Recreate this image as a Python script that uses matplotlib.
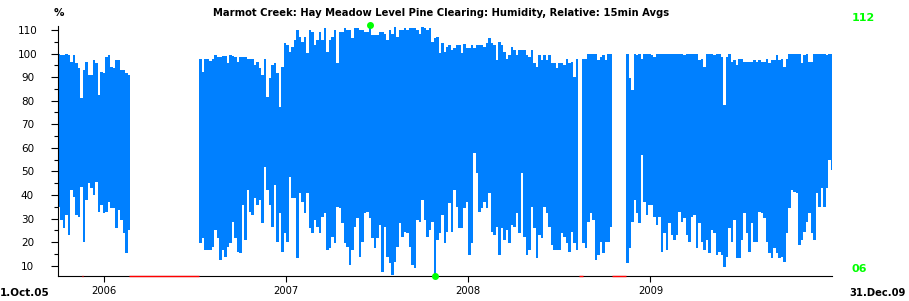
import numpy as np
import matplotlib
matplotlib.use("Agg")
import matplotlib.pyplot as plt
import matplotlib.dates as mdates

# 15 min data shown as 5-day min/max envelopes
BIN_DAYS = 5

seg1_start = "2005-10-01"
seg1_hi = [100, 99.4, 99.4, 100, 99.4, 96.5, 99.4, 95.8, 93.7, 81, 93, 96.5, 90.9, 90.9, 97.2,
           95.8, 82.4, 92.3, 91.6, 98.6, 99.4, 94.4, 93.7, 97.2, 97.2, 93, 93, 91.6, 90.9]
seg1_lo = [35, 29.3, 25.8, 31.5, 23, 42, 39.3, 31.5, 30.8, 43.5, 20.2, 37.8, 45, 42.8, 40,
           45.6, 32.9, 35.7, 32.2, 32.9, 37.1, 34.3, 34.3, 25.8, 33.6, 29.3, 23.7, 15.2, 25.1]

seg2_start = "2006-07-11"
seg2_hi = [97.5, 92.3, 97.9, 97.9, 97, 97.9, 99.4, 98.4, 98.6, 98.9, 98.9, 95.8, 99.4, 98.9, 98.6,
           96.5, 98.4, 98.4, 98.4, 97.9, 97.9, 97.9, 95.1, 96.5, 93.7, 90.9, 97.5, 81.7, 89.5, 95.1,
           95.8, 91.6, 77.4, 94.4, 104.3, 103.6, 100.8, 102.9, 105.7, 110.2, 107.1, 105, 107.1, 100.1, 110,
           109.3, 103.6, 105.7, 109.3, 105.7,
           110.7, 100.8, 105.7, 107.1, 110, 95.8, 109.3, 109.3, 110.7, 110, 110, 106.4, 110.7, 110.7, 110,
           110, 109.3, 109.3, 112, 107.8, 107.8, 107.8, 109.3, 109.3, 108.5, 105.7, 110, 108.5, 111.4, 107.1,
           110, 110, 110.7, 110, 111, 110.7, 110.7, 110, 108.5, 111.4, 110.7, 110, 110.7, 105, 106.4,
           107.1, 100.1, 104.3, 100.8, 102.9, 103.6, 101.5, 102.2,
           103.6, 103.6, 100.1, 104, 102.2, 102.2, 103.6, 102.2, 103.6, 103.6, 103.6, 102.9, 104.3, 106.4, 104.3,
           103.6, 97.2, 105, 103.6, 100.8, 97.9, 99.4, 102.9, 101.5, 99.4, 101.5, 101.5, 101.5, 99.4, 98.6,
           101.5, 95.8, 94.4, 99.4, 97.2, 99.4, 97.2, 99.4, 95.8, 95.8, 93.7, 95.8, 95.8, 95.1, 97.9,
           95.8, 96.5, 90.2, 97.9]
seg2_lo = [19.4, 21.6, 16.6, 16.6, 16.6, 18, 25.1, 21.6, 12.4, 16.6, 13.8, 18, 19.4, 28.6, 21.6,
           15.9, 15.2, 35.7, 20.9, 42.1, 32.9, 31.5, 38.5, 35.7, 37.8, 27.9, 52, 42.1, 35.7, 26.5,
           44.2, 20.2, 32.2, 15.9, 23.7, 20.2, 47.7, 38.5, 38.5, 13.1, 40.9, 37.1, 32.2, 40.9, 25.8,
           23.7, 29.3, 26.5, 23.7, 30.8,
           32.2, 16.6, 17.3, 22.3, 19.4, 35, 34.3, 27.9, 19.4, 18, 10.2, 16.6, 26.5, 30.1, 13.8,
           20.2, 32.2, 32.9, 30.1, 21.6, 17.3, 21.6, 27.2, 7.4, 26.5, 13.8, 11, 6.2, 11.7, 18,
           27.9, 22.3, 24.4, 23.7, 18, 10.2, 8.8, 29.3, 28.6, 37.8, 29.3, 22.3, 25.1, 28.6, 5.8,
           20.9, 23.7, 31.5, 19.4, 24.4, 36.4, 24.4, 42.1,
           35, 25.8, 25.8, 34.3, 37.1, 14.5, 19.4, 58, 49.2, 32.9, 34.3, 37.1, 34.3, 40.7, 24.4,
           23, 26.5, 14.5, 25.8, 20.9, 25.1, 19.4, 27.2, 26.5, 32.2, 23.7, 49.2, 22.3, 14.5, 16.6,
           35, 25.8, 13.1, 23, 21.6, 35, 32.2, 26.5, 18.7, 16.6, 16.6, 16.6, 23.7, 22.3, 19.4,
           15.9, 24.4, 19.4, 16.6]

seg3_start = "2008-08-17"
seg3_hi = [97.5, 97.9, 100, 100, 100, 100, 97.2, 98.6, 99.4, 97.2, 100, 100]
seg3_lo = [19.4, 17.3, 28.6, 32.2, 29.3, 12.4, 14.5, 20.2, 15.2, 20.2, 20.2, 26.5]

seg4_start = "2008-11-13"
seg4_hi = [100, 89.5, 84.5, 100, 99.4, 100, 97.9, 100, 100, 100, 99.4, 98.6, 100, 100, 100,
           100, 100, 100, 100, 100, 100, 100, 100, 99.4, 100, 100, 100, 100, 100, 97.2,
           97.9, 94.4, 100, 100, 100, 99.4,
           100, 100, 98.6, 78, 98.6, 100, 96.5, 97.2, 95.1, 97.9, 97.9, 96.5, 96.5, 96.5, 96.5,
           97.2, 96.5, 97.2, 96.5, 96.5, 97.9, 95.8, 97.2, 97.2, 99.4, 97.2, 97.9, 94.4, 97.9, 100,
           100, 100, 100, 100, 95.8, 99.4, 100, 96.5, 96.5, 100, 100, 100, 100, 100, 99.4,
           100, 100]
seg4_lo = [11, 17.3, 28.6, 37.8, 32.2, 27.9, 57, 37.1, 31.5, 35.7, 35.7, 30.8, 27.2, 30.8, 15.9,
           23.7, 16.6, 27.9, 23, 20.9, 23, 32.9, 28.6, 30.1, 23, 20.2, 30.8, 31.5, 17.3, 27.9,
           20.2, 16.6, 20.9, 15.2, 25.1, 23.7,
           14.5, 15.9, 14.5, 9.6, 13.8, 25.8, 20.2, 29.3, 13.1, 13.1, 20.9, 32.2, 23.7, 15.9, 27.9,
           20.2, 20.2, 32.9, 32.2, 30.1, 20.2, 15.2, 13.1, 17.3, 15.2, 13.1, 13.8, 11.7, 23.7, 34.3,
           42.1, 41.4, 40.7, 18.7, 20.9, 24.4, 28.6, 32.2, 23.7, 20.9, 40.7, 35, 42.8, 35, 42.8,
           54.8, 50.6]

# missing data periods (red marks on the time axis)
gap_starts = ["2005-11-18", "2006-02-20", "2008-08-10", "2008-10-15"]
gap_ends = ["2005-11-20", "2006-07-11", "2008-08-18", "2008-11-13"]

years = ["2006", "2007", "2008", "2009"]
t0, t1 = "2005-10-01", "2009-12-31"
title = "Marmot Creek: Hay Meadow Level Pine Clearing: Humidity, Relative: 15min Avgs"

BLUE = "#0080ff"
GREEN = "#00ff00"

W, H = 909, 301
fig = plt.figure(figsize=(W / 100, H / 100), dpi=100)
ax = fig.add_axes([58 / W, 1 - 276 / H, (832 - 58) / W, (276 - 26) / H])

segments = [(seg1_start, seg1_hi, seg1_lo), (seg2_start, seg2_hi, seg2_lo),
            (seg3_start, seg3_hi, seg3_lo), (seg4_start, seg4_hi, seg4_lo)]
all_x, all_hi, all_lo = [], [], []
for start, hi, lo in segments:
    days = np.datetime64(start) + np.arange(len(hi)) * np.timedelta64(BIN_DAYS, "D")
    x = mdates.date2num(days)
    hi = np.array(hi, float)
    lo = np.array(lo, float)
    ax.bar(x, hi - lo, bottom=lo, width=BIN_DAYS, align="edge", color=BLUE,
           linewidth=0, antialiased=False, zorder=2)
    all_x.append(x); all_hi.append(hi); all_lo.append(lo)
all_x = np.concatenate(all_x)
all_hi = np.concatenate(all_hi)
all_lo = np.concatenate(all_lo)

ymin, ymax = 5.6, 111.7
ax.set_ylim(ymin, ymax)
ax.set_xlim(mdates.date2num(np.datetime64(t0)), mdates.date2num(np.datetime64(t1)))

for g0, g1 in zip(gap_starts, gap_ends):
    ax.plot(mdates.date2num([np.datetime64(g0), np.datetime64(g1)]), [ymin, ymin],
            color="red", lw=1, clip_on=False, zorder=5, solid_capstyle="butt")

imax = np.argmax(all_hi)
imin = np.argmin(all_lo)
ax.plot(all_x[imax] + BIN_DAYS / 2, all_hi[imax], "o", color=GREEN, ms=4, clip_on=False, zorder=6)
ax.plot(all_x[imin] + BIN_DAYS / 2, ymin, "o", color=GREEN, ms=4, clip_on=False, zorder=6)

for s in ("top", "right"):
    ax.spines[s].set_visible(False)
for s in ("left", "bottom"):
    ax.spines[s].set_linewidth(0.8)

ax.set_yticks(np.arange(10, 111, 10))
ax.set_yticks(np.arange(10, 111, 5), minor=True)
ax.tick_params(axis="y", which="major", length=5, width=0.8, labelsize=7.5, pad=17)
ax.tick_params(axis="y", which="minor", length=3, width=0.8)
for lbl in ax.get_yticklabels():
    lbl.set_horizontalalignment("center")

ax.set_xticks(mdates.date2num([np.datetime64(y + "-01-01") for y in years]))
ax.set_xticklabels(years)
ax.tick_params(axis="x", which="major", length=4, width=0.8, labelsize=7.2, pad=3)

fig.text(441 / W, 1 - 13 / H, title, ha="center", va="center", fontsize=7.2, fontweight="bold")
fig.text(59 / W, 1 - 13 / H, "%", ha="center", va="center", fontsize=7.5, fontweight="bold")
fig.text(852 / W, 1 - 18 / H, f"{all_hi.max():.0f}", ha="left", va="center", fontsize=8,
         fontweight="bold", color=GREEN)
fig.text(852 / W, 1 - 269 / H, f"{all_lo.min():02.0f}", ha="left", va="center", fontsize=8,
         fontweight="bold", color=GREEN)
fig.text(0, 1 - 293 / H, "1.Oct.05", ha="left", va="center", fontsize=7.5, fontweight="bold")
fig.text(906 / W, 1 - 293 / H, "31.Dec.09", ha="right", va="center", fontsize=7.2, fontweight="bold")

fig.savefig("out.png", dpi=100)
